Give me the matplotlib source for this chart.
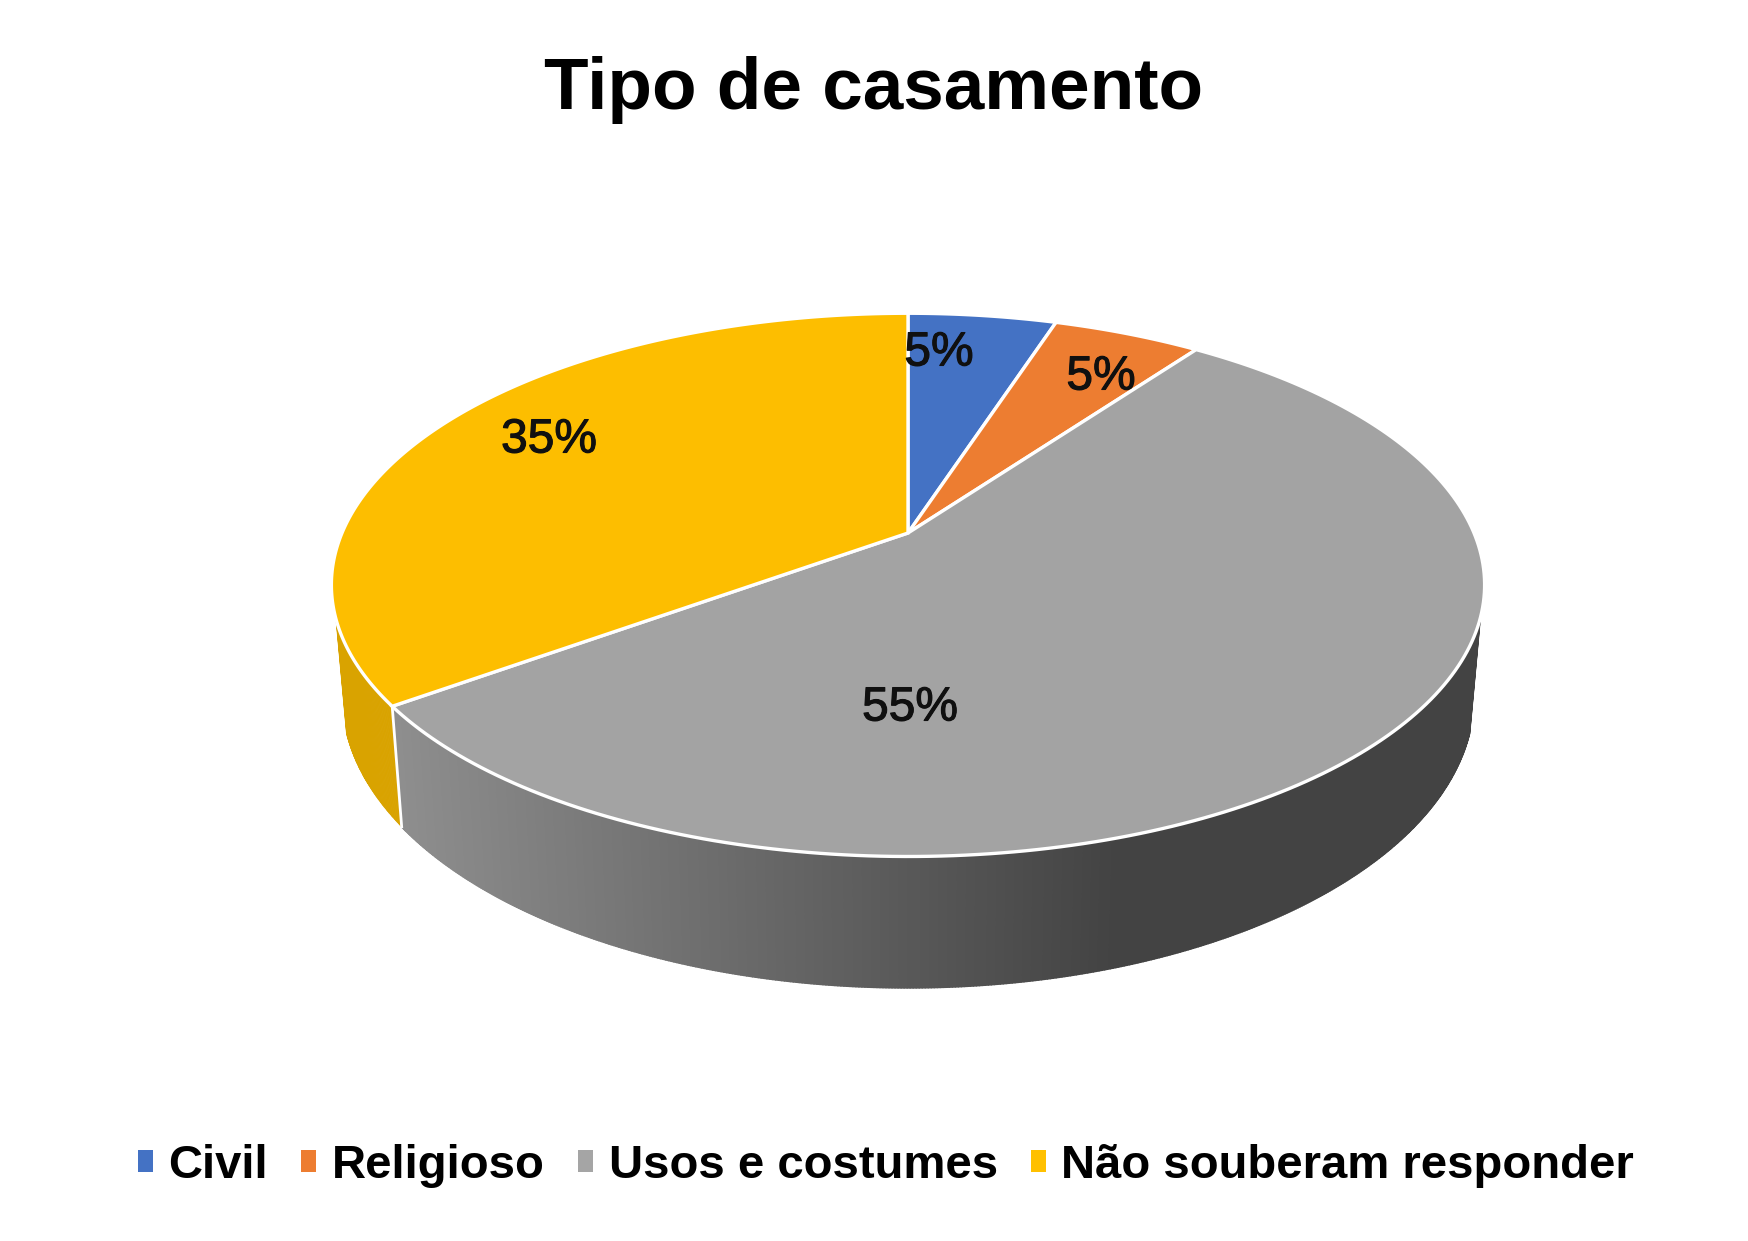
import numpy as np
import matplotlib
matplotlib.use('Agg')
import matplotlib.pyplot as plt
import matplotlib.patheffects as pe
from matplotlib.collections import PolyCollection
from matplotlib.patches import Patch

labels = ['Civil', 'Religioso', 'Usos e costumes', 'Não souberam responder']
values = [5, 5, 55, 35]
pct_text = ['5%', '5%', '55%', '35%']
colors = ['#4472C4', '#ED7D31', '#A3A3A3', '#FDBE00']

plt.rcParams['font.family'] = ['Liberation Sans', 'DejaVu Sans']

# perspective of the disc, in pixels of the 1749x1241 picture
CX = 908
K = 0.191


def top_pt(t):
    d = 1 + K * np.cos(t)
    return CX + 566 * np.sin(t) / d, 533 - 261.7 * np.cos(t) / d


def bottom_pt(t):
    d = 1 + K * np.cos(t)
    return CX + 555.6 * np.sin(t) / d, 641 - 280.6 * np.cos(t) / d


def wall_quads(t0, t1, n):
    t = np.linspace(t0, t1, n + 1)
    xa, ya = top_pt(t)
    xb, yb = bottom_pt(t)
    quads = []
    for i in range(n):
        quads.append([(xa[i], ya[i]), (xa[i + 1], ya[i + 1]), (xb[i + 1], yb[i + 1]), (xb[i], yb[i])])
    return quads, (xa[:-1] + xb[:-1]) / 2


fig = plt.figure(figsize=(17.49, 12.41), dpi=100)
ax = fig.add_axes([0, 0, 1, 1])
ax.set_xlim(0, 1749)
ax.set_ylim(1241, 0)
ax.axis('off')

edges = np.radians(np.cumsum([0] + values) / sum(values) * 360)

# side wall, yellow part
quads, _ = wall_quads(edges[3], np.radians(252), 60)
ax.add_collection(PolyCollection(quads, facecolors='#D9A300', edgecolors='#D9A300', linewidths=0.6, zorder=1))

# side wall, grey part with the shading going dark to the right
quads, xm = wall_quads(np.radians(108), edges[3], 500)
g = np.interp(xm, [400, 1115], [142, 67]) / 255
shade = [(v, v, v) for v in g]
ax.add_collection(PolyCollection(quads, facecolors=shade, edgecolors=shade, linewidths=1.2, zorder=1))

xa, ya = top_pt(edges[3])
xb, yb = bottom_pt(edges[3])
ax.plot([xa, xb], [ya, yb], color='white', lw=2, zorder=2)

# top of the pie
for i in range(len(values)):
    t = np.linspace(edges[i], edges[i + 1], 200)
    x, y = top_pt(t)
    ax.fill(np.r_[CX, x], np.r_[533, y], facecolor=colors[i], edgecolor='white', lw=2.4, zorder=3)

pct_x = [939, 1101, 910, 549]
pct_y = [353, 377, 708, 440]
for i in range(len(values)):
    t = ax.text(pct_x[i], pct_y[i], pct_text[i], fontsize=34.5, ha='center', va='center', color='#101010', zorder=5)
    t.set_path_effects([pe.withStroke(linewidth=0.8, foreground='#101010')])

ax.text(873.5, 109, 'Tipo de casamento', fontsize=52.5, fontweight='bold', ha='center', va='baseline', color='black')

handles = [Patch(facecolor=colors[i], edgecolor='none', label=labels[i]) for i in range(len(labels))]
handles[2].set_facecolor('#A5A5A5')
handles[3].set_facecolor('#FFC000')
leg = ax.legend(handles=handles, ncols=4, loc='center', bbox_to_anchor=(886, 1166), bbox_transform=ax.transData,
                frameon=False, prop={'size': 34, 'weight': 'bold'}, handlelength=0.32, handleheight=0.32,
                handletextpad=0.33, columnspacing=0.70, borderpad=0)

fig.savefig('out.png', dpi=100, facecolor='white')
